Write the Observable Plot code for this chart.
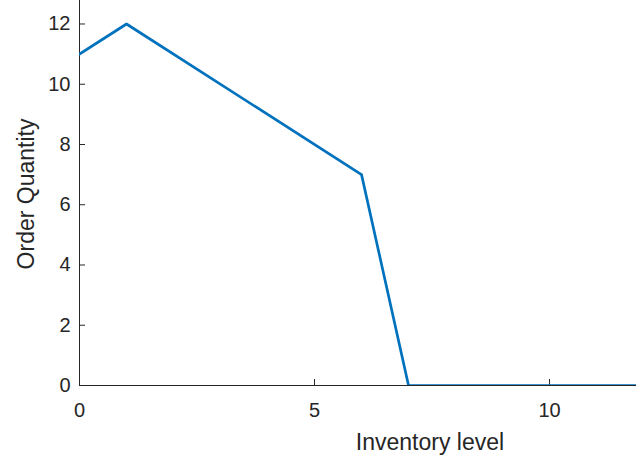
<!DOCTYPE html>
<html><head><meta charset="utf-8">
<script src="https://cdn.jsdelivr.net/npm/d3@7"></script>
<script src="https://cdn.jsdelivr.net/npm/@observablehq/plot@0.6"></script>
<style>html,body{margin:0;padding:0;background:#fff;overflow:hidden;}</style>
</head><body><div id="chart"></div>
<script>
const inventory = [0, 1, 6, 7, 12];
const orderQty = [11, 12, 7, 0, 0];
const xTicks = [0, 5, 10];
const yTicks = [0, 2, 4, 6, 8, 10, 12];
const xLabel = "Inventory level";
const yLabel = "Order Quantity";
const data = inventory.map((x, i) => ({x, y: orderQty[i]}));
const ink = "#262626";
const chart = Plot.plot({
  width: 636, height: 459,
  marginLeft: 79, marginRight: 0, marginTop: 0, marginBottom: 74,
  style: {fontFamily: "'Liberation Sans', Arial, Helvetica, sans-serif", fontSize: "20px", color: ink, background: "#fff", overflow: "visible"},
  x: {domain: [0, 11.85], ticks: xTicks, tickSize: 0, tickPadding: 17, label: null},
  y: {domain: [0, 12.78], ticks: yTicks, tickSize: 0, tickPadding: 9, label: null},
  marks: [
    Plot.ruleX([0], {stroke: ink}),
    Plot.ruleY([0], {stroke: ink}),
    Plot.ruleX(xTicks, {y1: 0, y2: 0, insetTop: -6, stroke: ink}),
    Plot.ruleY(yTicks, {x1: 0, x2: 0, insetRight: -6, stroke: ink}),
    Plot.line(data, {x: "x", y: "y", stroke: "#0072BD", strokeWidth: 2.7, clip: true}),
    Plot.text([xLabel], {text: d => d, frameAnchor: "bottom", textAnchor: "middle", lineAnchor: "middle", dx: 72, dy: 57, fontSize: 23, fill: ink}),
    Plot.text([yLabel], {text: d => d, frameAnchor: "left", textAnchor: "middle", lineAnchor: "middle", rotate: -90, dx: -53, dy: 1, fontSize: 23, fill: ink})
  ]
});
document.getElementById("chart").appendChild(chart);
</script>
</body></html>
